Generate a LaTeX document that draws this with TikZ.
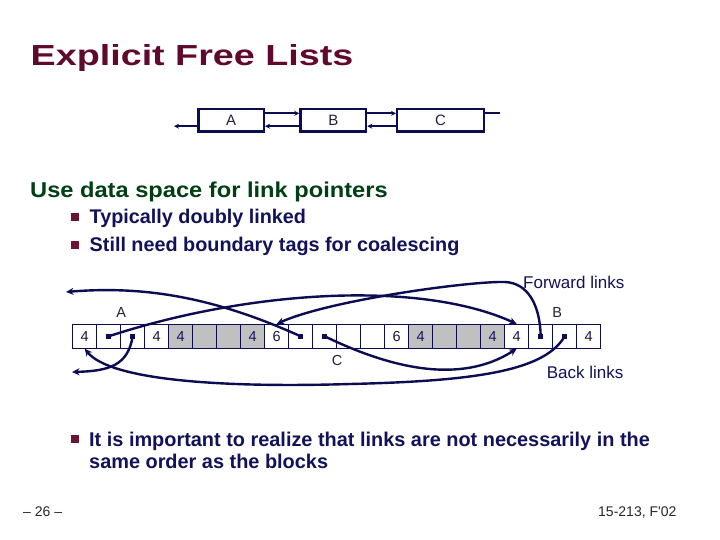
\documentclass[tikz,border=0pt]{standalone}
\usepackage{fontspec}
\setmainfont{Liberation Sans}
\newfontfamily\titlefont[FakeStretch=1.3]{Liberation Sans}
\newfontfamily\headfont[FakeStretch=1.1]{Liberation Sans}
\usetikzlibrary{arrows.meta,positioning}
\definecolor{titlered}{RGB}{95,10,45}
\definecolor{headgreen}{RGB}{0,62,20}
\definecolor{textblue}{RGB}{18,18,90}
\definecolor{bulletred}{RGB}{110,20,50}
\definecolor{linkblue}{RGB}{12,12,82}
\definecolor{cellgray}{RGB}{192,192,192}
\definecolor{digitblue}{RGB}{25,25,60}
\definecolor{graydigit}{RGB}{20,20,100}
\definecolor{labelgray}{RGB}{35,35,55}
\definecolor{footgray}{RGB}{40,40,40}

\begin{document}
\begin{tikzpicture}[x=1pt, y=-1pt,
  >={Stealth[length=7.5pt,width=7pt]},
  txt/.style={anchor=base west, inner sep=0pt},
  bul/.style={fill=bulletred, minimum size=8pt, inner sep=0pt},
  box/.style={draw=linkblue, line width=2.2pt, minimum height=22.8pt, inner sep=0pt,
              font=\fontsize{15}{15}\selectfont, text=labelgray},
  cell/.style={draw=linkblue, line width=0.8pt, minimum width=24pt, minimum height=24pt,
               inner sep=0pt, font=\fontsize{14.5}{14}\selectfont, text=digitblue},
  wcell/.style={cell, fill=white}, gcell/.style={cell, fill=cellgray, text=graydigit},
  ptr/.style={fill=linkblue, minimum size=5pt, inner sep=0pt},
  lbl/.style={inner sep=0pt, font=\fontsize{14.5}{14}\selectfont, text=labelgray},
  a/.style={->, line width=2.4pt, draw=linkblue},
  ta/.style={-{Stealth[length=5pt,width=5pt]}, line width=2pt, draw=linkblue},
]
\path[fill=white] (0,0) rectangle (720,540);
\useasboundingbox (0,0) rectangle (720,540);

% slide text
\node[txt, text=titlered, font=\titlefont\bfseries\fontsize{29}{30}\selectfont] (title) at (30.5,66) {Explicit Free Lists};
\node[txt, text=headgreen, font=\headfont\bfseries\fontsize{21.5}{23}\selectfont] (head) at (30,197.3) {Use data space for link pointers};
\node[bul] (b1) at (75,217.5) {};
\node[txt, text=textblue, font=\bfseries\fontsize{19.8}{22}\selectfont] (t1) at (89.5,224) {Typically doubly linked};
\node[bul] (b2) at (75,245) {};
\node[txt, text=textblue, font=\bfseries\fontsize{19.8}{22}\selectfont] (t2) at (89.5,251.5) {Still need boundary tags for coalescing};
\node[bul] (b3) at (75,439) {};
\node[txt, text=textblue, font=\bfseries\fontsize{19.9}{22}\selectfont] (t3) at (89,446) {It is important to realize that links are not necessarily in the};
\node[txt, text=textblue, font=\bfseries\fontsize{19.9}{22}\selectfont] (t4) at (89,468) {same order as the blocks};
\node[txt, text=footgray, font=\fontsize{14}{14}\selectfont] (pg) at (23,516) {– 26 –};
\node[txt, text=footgray, font=\fontsize{14}{14}\selectfont] (course) at (598,516) {15-213, F\textquotesingle02};

% list A -> B -> C
\node[box, minimum width=65.5pt] (la) at (231.2,120.2) {A};
\node[box, minimum width=65.8pt] (lb) at (333.3,120.2) {B};
\node[box, minimum width=86.8pt] (lc) at (440.5,120.2) {C};
\coordinate (lnil) at (174,126.2);
\coordinate (rnil) at (500,113.3);
\draw[ta] ([yshift=-6pt]la.west) -- (lnil);
\draw[ta] ([yshift=6.9pt]la.east) -- ([yshift=6.9pt]lb.west);
\draw[ta] ([yshift=-6pt]lb.west) -- ([yshift=-6pt]la.east);
\draw[ta] ([yshift=6.9pt]lb.east) -- ([yshift=6.9pt]lc.west);
\draw[ta] ([yshift=-6pt]lc.west) -- ([yshift=-6pt]lb.east);
\draw[line width=2pt, draw=linkblue] ([yshift=6.9pt]lc.east) -- (rnil);

% heap blocks
\foreach \t/\f [count=\i from 0] in {4/wcell,/wcell,/wcell,4/wcell,4/gcell,/gcell,/gcell,4/gcell,6/wcell,/wcell,/wcell,/wcell,/wcell,6/wcell,4/gcell,/gcell,/gcell,4/gcell,4/wcell,/wcell,/wcell,4/wcell}
  \node[\f] (c\i) at ({84.7+24*\i},336.3) {\t};
\node[ptr] (afw) at (c1) {};
\node[ptr] (abk) at (c2) {};
\node[ptr] (cfw) at (c9) {};
\node[ptr] (cbk) at (c10) {};
\node[ptr] (bfw) at (c19) {};
\node[ptr] (bbk) at (c20) {};
\node[lbl, above=6pt of c1.north east] (blkA) {A};
\node[lbl, above=6pt of c20.north west, xshift=5pt] (blkB) {B};
\node[lbl, below=6.5pt of c10.south east] (blkC) {C};
\node[txt, text=textblue, font=\fontsize{17}{17}\selectfont] (fwd) at (523,288.3) {Forward links};
\node[txt, text=textblue, font=\fontsize{17}{17}\selectfont] (back) at (546.7,378.3) {Back links};

% forward links
\coordinate (cnil) at (66,292);
\draw[a] (afw.center) .. controls (250,290) and (420,280) .. (c18.north);
\draw[a] (bfw.center) .. controls (540,305) and (528,283) .. (505,282) .. controls (470,281) and (330,300) .. (c8.north);
\draw[a] (cfw.center) .. controls (220,300) and (150,285) .. (cnil);
% back links
\coordinate (anil) at (72,372);
\draw[a] (abk.center) .. controls (128,365) and (110,371) .. (anil);
\draw[a] (bbk.center) .. controls (545,370) and (480,381) .. (350,384) .. controls (220,388) and (110,380) .. (c0.south);
\draw[a] (cbk.center) .. controls (390,368) and (460,385) .. (c18.south);
\end{tikzpicture}
\end{document}
